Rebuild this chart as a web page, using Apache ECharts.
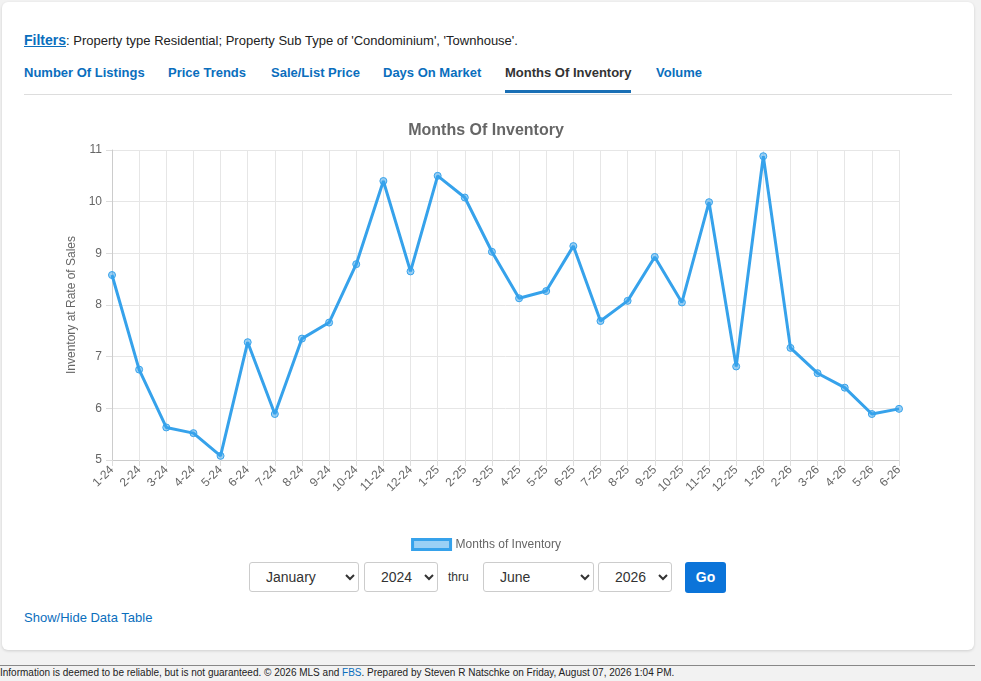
<!DOCTYPE html>
<html>
<head>
<meta charset="utf-8">
<script src="https://cdn.jsdelivr.net/npm/echarts@6/dist/echarts.min.js"></script>
<style>
  body { margin: 0; background: #f2f2f2; font-family: "Liberation Sans", Arial, sans-serif; width: 981px; height: 681px; overflow: hidden; position: relative; }
  .card { position: absolute; left: 2px; top: 2px; width: 972px; height: 648px; background: #fff; border-radius: 6px; box-shadow: 0 1px 3px rgba(0,0,0,0.15); }
  .filters { position: absolute; left: 22px; top: 30px; font-size: 13px; color: #222; }
  .filters a { color: #0a6ebd; font-weight: bold; font-size: 14px; text-decoration: underline; }
  .tabs { position: absolute; left: 22px; top: 56px; width: 928px; height: 36px; border-bottom: 1px solid #ddd; }
  .tab { position: absolute; top: 7px; font-size: 13px; font-weight: bold; color: #0a6ebd; white-space: nowrap; }
  .tab.active { color: #333; border-bottom: 3px solid #1a6fb5; height: 25px; }
  #chart { position: absolute; left: 20px; top: 106px; width: 928px; height: 450px; }
  .controls { position: absolute; top: 558px; left: 0; width: 100%; height: 32px; }
  .controls select { position: absolute; top: 2px; height: 30px; border: 1px solid #ccc; border-radius: 3px; background: #fff; font-size: 14px; color: #333; padding-left: 12px; font-family: "Liberation Sans", Arial, sans-serif; }
  .thru { position: absolute; left: 446px; top: 10px; font-size: 12px; color: #333; }
  .go { position: absolute; left: 683px; top: 2px; width: 41px; height: 31px; background: #0b74d9; color: #fff; border-radius: 3px; font-weight: bold; font-size: 14px; text-align: center; line-height: 31px; }
  .toggle { position: absolute; left: 22px; top: 608px; font-size: 13px; color: #0a6ebd; }
  .footer { position: absolute; left: 0; top: 665px; width: 975px; border-top: 1px solid #888; font-size: 10px; color: #222; padding-top: 1px; white-space: nowrap; }
  .footer a { color: #0a6ebd; text-decoration: none; }
</style>
</head>
<body>
<div class="card">
  <div class="filters"><a>Filters</a>: Property type Residential; Property Sub Type of 'Condominium', 'Townhouse'.</div>
  <div class="tabs">
    <span class="tab" style="left:0">Number Of Listings</span>
    <span class="tab" style="left:144px">Price Trends</span>
    <span class="tab" style="left:247px">Sale/List Price</span>
    <span class="tab" style="left:359px">Days On Market</span>
    <span class="tab active" style="left:481px">Months Of Inventory</span>
    <span class="tab" style="left:632px">Volume</span>
  </div>
  <div id="chart"></div>
  <div class="controls">
    <select style="left:247px;width:110px"><option>January</option></select>
    <select style="left:362px;width:74px"><option>2024</option></select>
    <span class="thru">thru</span>
    <select style="left:481px;width:111px"><option>June</option></select>
    <select style="left:596px;width:74px"><option>2026</option></select>
    <div class="go">Go</div>
  </div>
  <div class="toggle">Show/Hide Data Table</div>
</div>
<div class="footer">Information is deemed to be reliable, but is not guaranteed. &copy; 2026 MLS and <a>FBS</a>. Prepared by Steven R Natschke on Friday, August 07, 2026 1:04 PM.</div>
<script>
    // month labels and months-of-inventory values
    var months = [ '1-24', '2-24', '3-24', '4-24', '5-24', '6-24', '7-24', '8-24', '9-24', '10-24', '11-24', '12-24',
                   '1-25', '2-25', '3-25', '4-25', '5-25', '6-25', '7-25', '8-25', '9-25', '10-25', '11-25', '12-25',
                   '1-26', '2-26', '3-26', '4-26', '5-26', '6-26' ];
    var inventory = [ 8.58, 6.75, 5.63, 5.52, 5.08, 7.28, 5.89, 7.35, 7.66, 8.79, 10.40, 8.65,
                      10.50, 10.08, 9.03, 8.13, 8.27, 9.14, 7.69, 8.08, 8.93, 8.05, 9.99, 6.81,
                      10.88, 7.17, 6.68, 6.40, 5.89, 5.99 ];
    var yTicks = [ 5, 11 ];

    var blue = '#36a2eb';
    var myChart = echarts.init( document.getElementById( 'chart' ) ),
        option = {
            animation: false,
            textStyle: { fontFamily: 'Liberation Sans, Arial, sans-serif' },
            title: {
                text: 'Months Of Inventory',
                left: 'center',
                top: 10,
                textStyle: { fontSize: 16, fontWeight: 'bold', color: '#666' }
            },
            legend: {
                bottom: 2,
                left: 'center',
                icon: 'rect',
                itemWidth: 38,
                itemHeight: 10,
                itemGap: 6,
                textStyle: { color: '#666', fontSize: 12 },
                itemStyle: { color: 'rgba(54,162,235,0.5)', borderColor: blue, borderWidth: 3 },
                data: [ 'Months of Inventory' ]
            },
            grid: { left: 90, right: 51, top: 42, bottom: 98 },
            xAxis: {
                type: 'category',
                boundaryGap: false,
                data: months,
                axisLine: { lineStyle: { color: '#ccc' } },
                axisTick: { show: true, length: 6, lineStyle: { color: '#ddd' } },
                axisLabel: { rotate: 45, color: '#666', fontSize: 12, interval: 0, margin: 8 },
                splitLine: { show: true, lineStyle: { color: '#e6e6e6' } }
            },
            yAxis: {
                type: 'value',
                min: yTicks[ 0 ],
                max: yTicks[ 1 ],
                interval: 1,
                name: 'Inventory at Rate of Sales',
                nameLocation: 'middle',
                nameGap: 32,
                nameTextStyle: { color: '#666', fontSize: 12 },
                axisLine: { show: true, lineStyle: { color: '#ccc' } },
                axisTick: { show: true, length: 6, lineStyle: { color: '#ddd' } },
                axisLabel: { color: '#666', fontSize: 12, margin: 10 },
                splitLine: { lineStyle: { color: '#e6e6e6' } }
            },
            series: [ {
                name: 'Months of Inventory',
                type: 'line',
                data: inventory,
                symbol: 'circle',
                symbolSize: 7,
                showAllSymbol: true,
                lineStyle: { color: blue, width: 3 },
                itemStyle: { color: 'rgba(54,162,235,0.5)', borderColor: blue, borderWidth: 1 }
            } ]
        };
    myChart.setOption( option );
</script>
</body>
</html>
